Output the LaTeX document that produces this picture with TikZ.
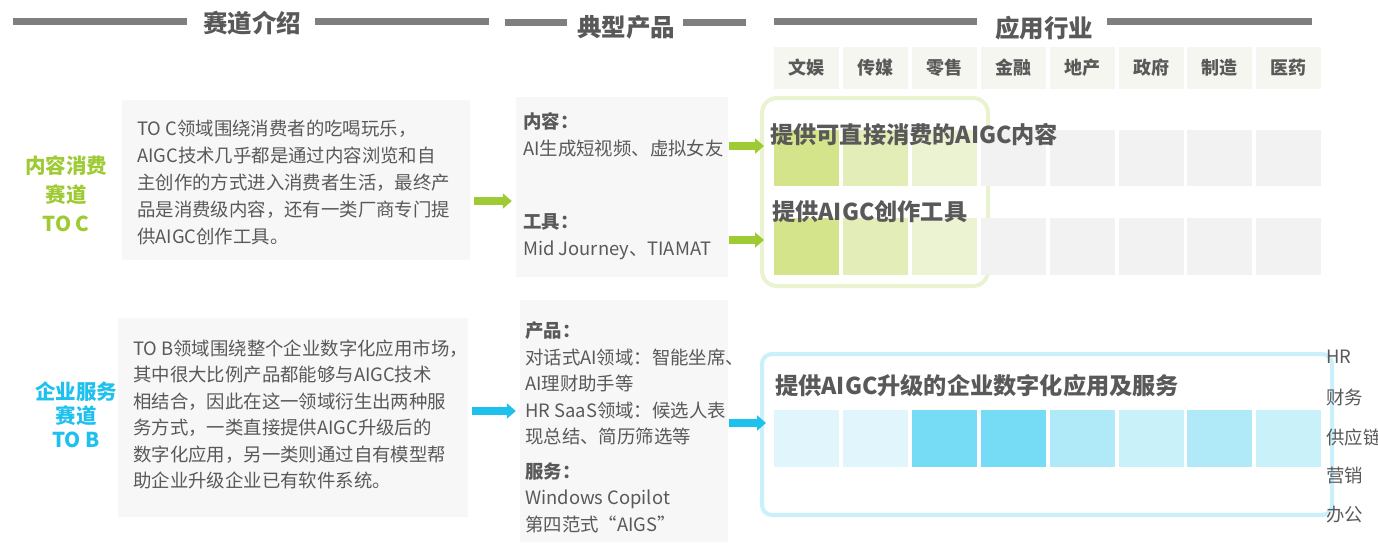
\documentclass[tikz,border=0pt]{standalone}
\usepackage{fontspec}
\setmainfont{Noto Sans CJK SC}
\usepackage{tikz}
\usetikzlibrary{positioning,arrows.meta,calc}
\definecolor{txtgray}{RGB}{89,89,89}
\definecolor{bargray}{RGB}{127,127,127}
\definecolor{boxgray}{RGB}{247,247,247}
\definecolor{indbg}{RGB}{246,246,241}
\definecolor{cellgray}{RGB}{242,242,242}
\definecolor{tocgreen}{RGB}{158,202,52}
\definecolor{gcellA}{RGB}{211,228,138}
\definecolor{gcellB}{RGB}{227,237,184}
\definecolor{gcellC}{RGB}{236,243,210}
\definecolor{gframe}{RGB}{233,243,208}
\definecolor{tobblue}{RGB}{30,192,238}
\definecolor{bcellA}{RGB}{224,246,252}
\definecolor{bcellD}{RGB}{118,220,245}
\definecolor{bcellM}{RGB}{176,234,249}
\definecolor{bcellL}{RGB}{200,241,250}
\definecolor{bframe}{RGB}{201,240,251}

\begin{document}
\begin{tikzpicture}[x=1pt, y=-1pt, >=Stealth,
    secbar/.style={line width=7pt, bargray},
    sectitle/.style={inner sep=0pt, text=txtgray, font=\bfseries\fontsize{24.5pt}{28pt}\selectfont},
    body/.style={inner sep=0pt, text=txtgray, align=left, font=\fontsize{18.4pt}{27pt}\selectfont},
    lane/.style={inner sep=0pt, align=center, font=\bfseries\fontsize{20.5pt}{29pt}\selectfont},
    greybox/.style={fill=boxgray, inner sep=0pt},
    indcell/.style={fill=indbg, inner sep=0pt, minimum width=65pt, minimum height=41pt,
        text=txtgray, font=\bfseries\fontsize{18pt}{20pt}\selectfont},
    frame/.style={line width=4pt, rounded corners=#1, inner sep=0pt, outer sep=0pt},
    rowtitle/.style={inner sep=0pt, anchor=west, text=txtgray, font=\bfseries\fontsize{23.2pt}{25pt}\selectfont},
    garrow/.style={-{Triangle[length=9pt,width=15pt]}, line width=8.5pt, tocgreen},
    barrow/.style={-{Triangle[length=9pt,width=15pt]}, line width=8.5pt, tobblue}]

    \useasboundingbox (0,0) rectangle (1378,543);
    \fill[white] (0,0) rectangle (1378,543);

    % =========================================================================
    % TITRES DE COLONNES
    % =========================================================================
    \foreach \xa/\xb/\yb in {13/187/22, 315/489/22, 505/567/22.5, 683/746/22.5, 774/977/22, 1107/1312/22}
        \draw[secbar] (\xa,\yb) -- (\xb,\yb);
    \node[sectitle] (sec1) at (252,23) {赛道介绍};
    \node[sectitle] (sec2) at (626,27) {典型产品};
    \node[sectitle] (sec3) at (1044,28) {应用行业};

    % En-tetes des industries
    \foreach \n [count=\i from 0] in {文娱,传媒,零售,金融,地产,政府,制造,医药}
        \node[indcell] (ind\i) at ({806.5+68.9*\i},68) {\n};

    % =========================================================================
    % TO C
    % =========================================================================
    \node[lane, text=tocgreen] (laneC) at (66,194) {内容消费\\赛道\\TO C};

    \node[greybox, minimum width=348pt, minimum height=160pt] (desc1) at (296,180) {};
    \node[body, anchor=north west] (desc1txt) at (137,120)
        {TO C领域围绕消费者的吃喝玩乐，\\AIGC技术几乎都是通过内容浏览和自\\主创作的方式进入消费者生活，最终产\\品是消费级内容，还有一类厂商专门提\\供AIGC创作工具。};

    \node[greybox, minimum width=212pt, minimum height=180pt] (prod1) at (622,187) {};
    \node[body, anchor=north west] (prod1txt) at (523,112.7)
        {\textbf{内容：}\\AI生成短视频、虚拟女友\\[46pt]\textbf{工具：}\\Mid Journey、TIAMAT};

    % Cadre vert + cases
    \node[frame=15pt, draw=gframe, minimum width=226pt, minimum height=188pt] (tocbox) at (875,192) {};
    \foreach \c [count=\i from 0] in {gcellA,gcellB,gcellC,cellgray,cellgray,cellgray,cellgray,cellgray} {
        \fill[\c] ({774+68.9*\i},130) rectangle +(65,56);
        \fill[\c] ({774+68.9*\i},218) rectangle +(65,57);
    }
    \node[rowtitle] (rowC1) at (770,135) {提供可直接消费的AIGC内容};
    \node[rowtitle] (rowC2) at (772,212) {提供AIGC创作工具};

    \draw[garrow, shorten <=4pt, shorten >=4pt] (desc1.east |- 0,201) -- (prod1.west |- 0,201);
    \draw[garrow, shorten <=1pt, shorten >=-2pt] (prod1.east |- 0,146) -- (tocbox.west |- 0,146);
    \draw[garrow, shorten <=1pt, shorten >=-2pt] (prod1.east |- 0,240) -- (tocbox.west |- 0,240);

    % =========================================================================
    % TO B
    % =========================================================================
    \node[lane, text=tobblue, font=\bfseries\fontsize{20.5pt}{24pt}\selectfont] (laneB) at (76,415) {企业服务\\赛道\\TO B};

    \node[greybox, minimum width=350pt, minimum height=199pt] (desc2) at (293,417.5) {};
    \node[body, anchor=north west, font=\fontsize{18.4pt}{26.5pt}\selectfont] (desc2txt) at (133,339.5)
        {TO B领域围绕整个企业数字化应用市场，\\其中很大比例产品都能够与AIGC技术\\相结合，因此在这一领域衍生出两种服\\务方式，一类直接提供AIGC升级后的\\数字化应用，另一类则通过自有模型帮\\助企业升级企业已有软件系统。};

    \node[greybox, minimum width=208pt, minimum height=242pt] (prod2) at (624,421) {};
    \node[body, anchor=north west, font=\fontsize{18.4pt}{26.5pt}\selectfont] (prod2txt) at (525,321.7)
        {\textbf{产品：}\\对话式AI领域：智能坐席、\\AI理财助手等\\HR SaaS领域：候选人表\\现总结、简历筛选等\\[8pt]\textbf{服务：}\\Windows Copilot\\第四范式“AIGS”};

    % Cadre bleu + cases
    \node[frame=10pt, draw=bframe, minimum width=570pt, minimum height=161pt] (tobbox) at (1047,434.5) {};
    \foreach \c [count=\i from 0] in {bcellA,bcellA,bcellD,bcellD,bcellM,bcellL,bcellM,bcellL}
        \fill[\c] ({774+68.9*\i},410) rectangle +(65,57);
    \node[rowtitle] (rowB1) at (775,386) {提供AIGC升级的企业数字化应用及服务};

    \draw[barrow, shorten <=4pt, shorten >=4pt] (desc2.east |- 0,411) -- (prod2.west |- 0,411);
    \draw[barrow, shorten <=1pt, shorten >=-4pt] (prod2.east |- 0,423) -- (tobbox.west |- 0,423);

    % Fonctions (a droite)
    \foreach \n/\y [count=\i] in {HR/357, 财务/397, 供应链/437, 营销/476, 办公/515}
        \node[body, anchor=west] (fn\i) at (1326,\y) {\n};

\end{tikzpicture}
\end{document}
